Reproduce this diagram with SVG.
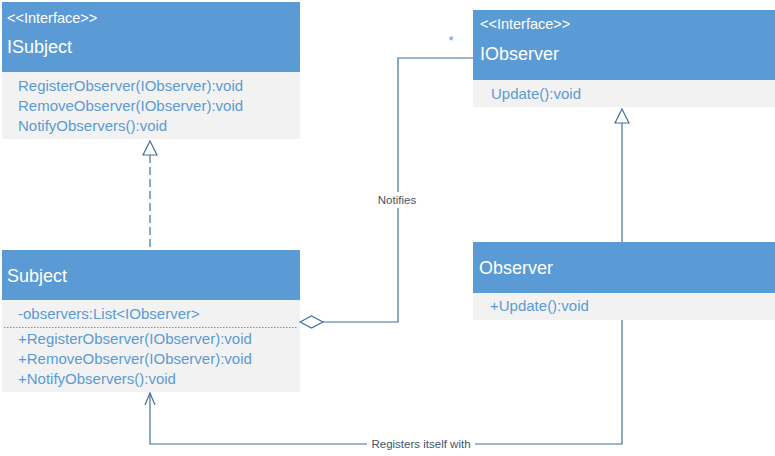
<svg xmlns="http://www.w3.org/2000/svg" width="775" height="456" viewBox="0 0 775 456">
<style>
.hdr{fill:#5B9BD5}
.body{fill:#F2F2F2}
.st{font-family:"Liberation Sans",Arial,sans-serif;font-size:14.5px;fill:#FFFFFF}
.tt{font-family:"Liberation Sans",Arial,sans-serif;font-size:18px;fill:#FFFFFF}
.mt{font-family:"Liberation Sans",Arial,sans-serif;font-size:15px;fill:#5B9BD5}
.ln{fill:none;stroke:#41719C;stroke-width:1.2}
.lbl{font-family:"Liberation Sans",Arial,sans-serif;font-size:11.5px;fill:#44546A;text-anchor:middle}
</style>
<rect width="775" height="456" fill="#FFFFFF"/>
<g id="ISubject">
<rect class="hdr" x="2" y="2" width="298" height="70"/>
<rect class="body" x="2" y="72" width="298" height="67"/>
<text class="st" x="7" y="23">&lt;&lt;Interface&gt;&gt;</text>
<text class="tt" x="7" y="53">ISubject</text>
<text class="mt" x="18" y="91">RegisterObserver(IObserver):void</text>
<text class="mt" x="18" y="111">RemoveObserver(IObserver):void</text>
<text class="mt" x="18" y="131">NotifyObservers():void</text>
</g>
<g id="Subject">
<rect class="hdr" x="2" y="250" width="298" height="50"/>
<rect class="body" x="2" y="300" width="298" height="92"/>
<text class="tt" x="7" y="282">Subject</text>
<text class="mt" x="18" y="319">-observers:List&lt;IObserver&gt;</text>
<line x1="4" y1="327.5" x2="298" y2="327.5" stroke="#5B9BD5" stroke-width="1" stroke-dasharray="1.5 1.5"/>
<text class="mt" x="18" y="344">+RegisterObserver(IObserver):void</text>
<text class="mt" x="18" y="364">+RemoveObserver(IObserver):void</text>
<text class="mt" x="18" y="384">+NotifyObservers():void</text>
</g>
<g id="IObserver">
<rect class="hdr" x="473" y="10" width="302" height="70"/>
<rect class="body" x="473" y="80" width="302" height="27"/>
<text class="st" x="480" y="29">&lt;&lt;Interface&gt;&gt;</text>
<text class="tt" x="480" y="60">IObserver</text>
<text class="mt" x="491" y="99">Update():void</text>
</g>
<g id="Observer">
<rect class="hdr" x="473" y="242" width="302" height="51"/>
<rect class="body" x="473" y="293" width="302" height="27"/>
<text class="tt" x="479" y="274">Observer</text>
<text class="mt" x="490" y="311">+Update():void</text>
</g>
<g id="connectors">
<line class="ln" x1="150" y1="155" x2="150" y2="250" stroke-dasharray="8 4"/>
<polygon class="ln" points="150,141 143,155 157,155" fill="#FFFFFF"/>
<line class="ln" x1="622" y1="123" x2="622" y2="242"/>
<polygon class="ln" points="622,109 615,123 629,123" fill="#FFFFFF"/>
<polyline class="ln" points="323,322 398,322 398,58 473,58"/>
<polygon class="ln" points="300,322 311.5,316 323,322 311.5,328" fill="#FFFFFF"/>
<rect x="373" y="192" width="48" height="16" fill="#FFFFFF"/>
<text class="lbl" x="397" y="204">Notifies</text>
<text x="451" y="45" font-family="Liberation Sans,Arial,sans-serif" font-size="13" fill="#5B9BD5" text-anchor="middle">*</text>
<polyline class="ln" points="622,320 622,444 150,444 150,393"/>
<polyline class="ln" points="145,405 150,393 155,405"/>
<rect x="367" y="437" width="108" height="14" fill="#FFFFFF"/>
<text class="lbl" x="421" y="448">Registers itself with</text>
</g>
</svg>
